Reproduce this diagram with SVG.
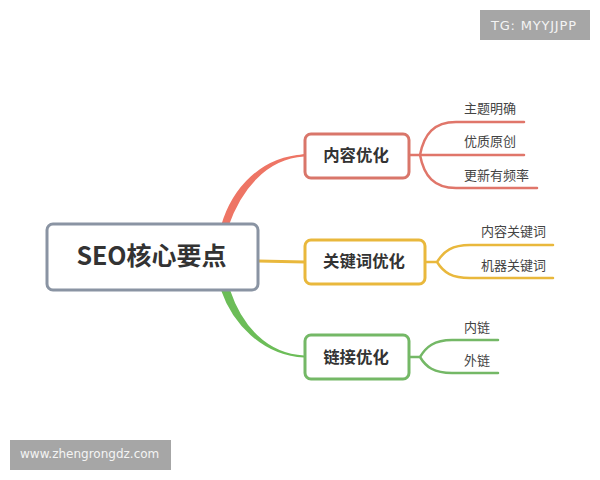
<svg xmlns="http://www.w3.org/2000/svg" width="600" height="480" viewBox="0 0 600 480">
<style>
text{font-family:"Noto Sans CJK SC","Noto Sans",sans-serif;fill:#333}
.box{fill:#fff;stroke-width:3}
.main{font-size:16.4px;font-weight:700;text-anchor:middle}
.rootText{font-size:25px;font-weight:700;text-anchor:middle}
.leaf{font-size:13px;fill:#444}
.wm{fill:#a6a6a6}
.wmt{font-family:"DejaVu Sans",sans-serif;font-size:12px;fill:#f4f4f4}
.c{fill:none;stroke-linecap:round}
.r{stroke:#e0766a;stroke-width:2.5}
.y{stroke:#e9b83c;stroke-width:2.5}
.g{stroke:#74b866;stroke-width:2.5}
</style>
<rect width="600" height="480" fill="#fff"/>
<g id="connectors">
<path d="M222 226 C233 188 262 157.500 304 155.500 C265 158 240 190 227.500 226 Z" fill="#ee7565" stroke="#ee7565" stroke-width="2"/>
<path d="M222 290 C233 322 262 354.500 304 356.500 C266 354.500 241 326 229 290 Z" fill="#6cbd58" stroke="#6cbd58" stroke-width="2"/>
<path class="c y" d="M258 261 L305 262" style="stroke-width:3"/>
<path class="c r" d="M409 155 H420 M420 155 C424 134 434 122 456 122 H524 M420 155 H524 M420 155 C424 176 434 188 456 188 H537"/>
<path class="c y" d="M425 262 H437 M437 262 C444 251 452 245 470 245 H553 M437 262 C444 273 452 278 470 278 H553"/>
<path class="c g" d="M409 357 H420 M420 357 C426 347 434 340 452 340 H498 M420 357 C426 367 434 373 452 373 H498"/>
</g>
<g id="root"><rect class="box" x="47" y="224" width="211" height="66" rx="6" stroke="#8a94a3"/><text class="rootText" x="151.500" y="265">SEO核心要点</text></g>
<g id="n1"><rect class="box" x="305" y="134" width="104" height="44" rx="6" stroke="#d9766a"/><text class="main" x="356" y="161">内容优化</text></g>
<g id="n2"><rect class="box" x="305" y="240" width="120" height="44" rx="6" stroke="#e9b83c"/><text class="main" x="364" y="267">关键词优化</text></g>
<g id="n3"><rect class="box" x="305" y="335" width="104" height="44" rx="6" stroke="#74b866"/><text class="main" x="356" y="363">链接优化</text></g>
<g id="l1"><text class="leaf" x="464" y="113">主题明确</text></g>
<g id="l2"><text class="leaf" x="464" y="146">优质原创</text></g>
<g id="l3"><text class="leaf" x="464" y="180">更新有频率</text></g>
<g id="l4"><text class="leaf" x="481" y="236">内容关键词</text></g>
<g id="l5"><text class="leaf" x="481" y="270">机器关键词</text></g>
<g id="l6"><text class="leaf" x="464" y="332">内链</text></g>
<g id="l7"><text class="leaf" x="464" y="365">外链</text></g>
<rect class="wm" x="480" y="10" width="110" height="30"/>
<text class="wmt" x="491" y="30" style="font-size:13px;letter-spacing:.8px">TG: MYYJJPP</text>
<rect class="wm" x="10" y="440" width="161" height="30"/>
<text class="wmt" x="20" y="458">www.zhengrongdz.com</text>
</svg>
